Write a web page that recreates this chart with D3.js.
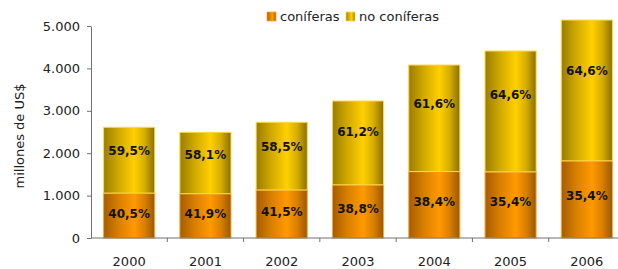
<!DOCTYPE html>
<html><head><meta charset="utf-8">
<script src="https://cdn.jsdelivr.net/npm/d3@7"></script>
<style>html,body{margin:0;padding:0;background:#fff;}svg{display:block;}</style>
</head><body>
<svg id="chart" width="618" height="269"></svg>
<script>
const years = ["2000","2001","2002","2003","2004","2005","2006"];
const coniferas = [1060, 1045, 1133, 1254, 1567, 1561, 1820];
const noConiferas = [1551, 1448, 1596, 1977, 2513, 2849, 3321];
const pctConiferas = ["40,5%","41,9%","41,5%","38,8%","38,4%","35,4%","35,4%"];
const pctNoConiferas = ["59,5%","58,1%","58,5%","61,2%","61,6%","64,6%","64,6%"];
const yTicks = [0, 1000, 2000, 3000, 4000, 5000];
const seriesNames = ["coníferas", "no coníferas"];

const svg = d3.select("#chart");
const font = "'DejaVu Sans', Verdana, sans-serif";
const x = d3.scaleBand().domain(years).range([91, 625]).paddingInner(0.33).paddingOuter(0.165);
const y = d3.scaleLinear().domain([0, 5000]).range([238, 26]);
const fmt = d3.formatLocale({decimal: ",", thousands: ".", grouping: [3], currency: ["", ""]}).format(",");

const defs = svg.append("defs");
function grad(id, stops) {
  const g = defs.append("linearGradient").attr("id", id).attr("x1", "0%").attr("x2", "100%").attr("y1", "0%").attr("y2", "0%");
  stops.forEach(s => g.append("stop").attr("offset", s[0]).attr("stop-color", s[1]));
}
grad("gOrange", [["0%", "#a65c00"], ["30%", "#d98000"], ["60%", "#ff9a00"], ["80%", "#d98000"], ["100%", "#9a5800"]]);
grad("gGold", [["0%", "#9a7d00"], ["30%", "#d2aa00"], ["60%", "#ffd000"], ["80%", "#d6ae00"], ["100%", "#8a6f00"]]);

// axes
const yAxis = svg.append("g").attr("transform", "translate(91,0)")
  .call(d3.axisLeft(y).tickValues(yTicks).tickFormat(fmt).tickSize(4).tickSizeOuter(0));
yAxis.select(".domain").attr("stroke", "#707070");
yAxis.selectAll(".tick line").attr("stroke", "#707070");
yAxis.selectAll("text").attr("font-family", font).attr("font-size", 13).attr("fill", "#222").attr("x", -11);

// bars
const data = years.map((yr, i) => ({yr, c: coniferas[i], n: noConiferas[i], pc: pctConiferas[i], pn: pctNoConiferas[i]}));
const g = svg.append("g");
g.selectAll("rect.c").data(data).join("rect").attr("class", "c")
  .attr("x", d => x(d.yr)).attr("width", x.bandwidth())
  .attr("y", d => y(d.c)).attr("height", d => y(0) - y(d.c))
  .attr("fill", "url(#gOrange)").attr("stroke", "#f5a840").attr("stroke-width", 1);
g.selectAll("rect.n").data(data).join("rect").attr("class", "n")
  .attr("x", d => x(d.yr)).attr("width", x.bandwidth())
  .attr("y", d => y(d.c + d.n)).attr("height", d => y(d.c) - y(d.c + d.n))
  .attr("fill", "url(#gGold)").attr("stroke", "#ffd84a").attr("stroke-width", 1);

// x axis
const xAxisG = svg.append("g");
xAxisG.append("line").attr("x1", 91).attr("x2", 618).attr("y1", y(0)).attr("y2", y(0)).attr("stroke", "#707070");
const step = x.step();
xAxisG.selectAll("line.t").data(years.slice(1)).join("line").attr("class", "t")
  .attr("x1", d => x(d) - (step - x.bandwidth()) / 2).attr("x2", d => x(d) - (step - x.bandwidth()) / 2)
  .attr("y1", y(0)).attr("y2", y(0) + 4).attr("stroke", "#707070");
xAxisG.selectAll("text").data(years).join("text")
  .attr("x", d => x(d) + x.bandwidth() / 2).attr("y", 266)
  .attr("text-anchor", "middle").attr("font-family", font).attr("font-size", 13).attr("fill", "#222").text(d => d);

// labels
g.selectAll("text.lc").data(data).join("text").attr("class", "lc")
  .attr("x", d => x(d.yr) + x.bandwidth() / 2).attr("y", d => y(d.c * 0.55) + 4.5)
  .attr("text-anchor", "middle").attr("font-family", font).attr("font-weight", "bold").attr("font-size", 12).attr("fill", "#111")
  .text(d => d.pc);
g.selectAll("text.ln").data(data).join("text").attr("class", "ln")
  .attr("x", d => x(d.yr) + x.bandwidth() / 2).attr("y", d => y(d.c + d.n * 0.64) + 4.5)
  .attr("text-anchor", "middle").attr("font-family", font).attr("font-weight", "bold").attr("font-size", 12).attr("fill", "#111")
  .text(d => d.pn);

// y label
svg.append("text").attr("transform", "translate(24,136) rotate(-90)").attr("text-anchor", "middle")
  .attr("font-family", font).attr("font-size", 13).attr("fill", "#222").text("millones de US$");

// legend
const leg = svg.append("g");
const legX = [267, 346];
const legFill = ["url(#gOrange)", "url(#gGold)"];
const legStroke = ["#f5a840", "#ffd84a"];
seriesNames.forEach((name, i) => {
  leg.append("rect").attr("x", legX[i]).attr("y", 12).attr("width", 9).attr("height", 9)
    .attr("fill", legFill[i]).attr("stroke", legStroke[i]).attr("stroke-width", 0.8);
  leg.append("text").attr("x", legX[i] + 13).attr("y", 21).attr("font-family", font).attr("font-size", 13)
    .attr("fill", "#222").text(name);
});
</script>
</body></html>
